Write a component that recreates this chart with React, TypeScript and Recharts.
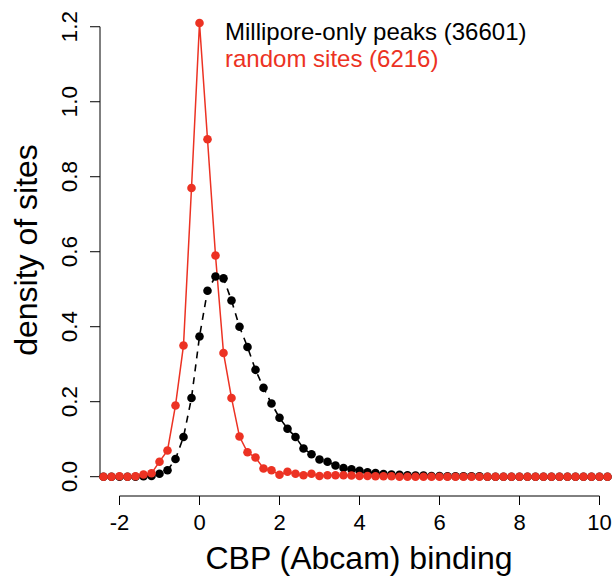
import { LineChart, Line, XAxis, YAxis, ReferenceLine } from "recharts";

const FONT = "'Liberation Sans', Arial, Helvetica, sans-serif";
const RED = "#EC3223";

// bin centres on the x axis
const xs = [
  -2.4, -2.2, -2.0, -1.8, -1.6, -1.4, -1.2, -1.0, -0.8, -0.6, -0.4, -0.2,
  0.0, 0.2, 0.4, 0.6, 0.8, 1.0, 1.2, 1.4, 1.6, 1.8, 2.0, 2.2, 2.4, 2.6, 2.8,
  3.0, 3.2, 3.4, 3.6, 3.8, 4.0, 4.2, 4.4, 4.6, 4.8, 5.0, 5.2, 5.4, 5.6, 5.8,
  6.0, 6.2, 6.4, 6.6, 6.8, 7.0, 7.2, 7.4, 7.6, 7.8, 8.0, 8.2, 8.4, 8.6, 8.8,
  9.0, 9.2, 9.4, 9.6, 9.8, 10.0, 10.2,
];

const milliporeDensity = [
  0, 0, 0, 0, 0, 0.001, 0.002, 0.008, 0.017, 0.047, 0.106, 0.21,
  0.374, 0.496, 0.534, 0.529, 0.47, 0.4, 0.346, 0.285, 0.237, 0.195, 0.157, 0.128, 0.106, 0.075, 0.06,
  0.046, 0.04, 0.03, 0.023, 0.02, 0.016, 0.012, 0.01, 0.007, 0.006, 0.005, 0.004, 0.003, 0.003, 0.002,
  0.002, 0.001, 0.001, 0.001, 0.001, 0.001, 0, 0, 0, 0, 0, 0, 0, 0, 0,
  0, 0, 0, 0, 0, 0, 0,
];

const randomDensity = [
  0, 0, 0.001, 0, 0.001, 0.006, 0.009, 0.04, 0.07, 0.19, 0.35, 0.77,
  1.21, 0.9, 0.59, 0.33, 0.21, 0.107, 0.065, 0.051, 0.022, 0.017, 0.005, 0.013, 0.008, 0.004, 0.008,
  0.002, 0.004, 0.004, 0.004, 0.003, 0.002, 0.002, 0.001, 0.001, 0.001, 0, 0, 0, 0, 0,
  0, 0, 0, 0, 0, 0, 0, 0, 0, 0, 0, 0, 0, 0, 0,
  0, 0, 0, 0, 0, 0, 0,
];

const xTicks = [-2, 0, 2, 4, 6, 8, 10];
const yTicks = [0, 0.2, 0.4, 0.6, 0.8, 1.0, 1.2];
const yTickLabels = ["0.0", "0.2", "0.4", "0.6", "0.8", "1.0", "1.2"];

const X_DOMAIN: [number, number] = [-2.4875, 10.3125];
const Y_DOMAIN: [number, number] = [-0.0515, 1.25];

const rows = xs.map((x, i) => ({
  x,
  millipore: milliporeDensity[i],
  random: randomDensity[i],
}));

const XTick = (props: any) => {
  const { x, y, payload } = props;
  return (
    <text x={x} y={y + 23} textAnchor="middle" fontSize={22} fontFamily={FONT} fill="#000">
      {String(payload.value)}
    </text>
  );
};

const YTick = (props: any) => {
  const { y, payload } = props;
  const i = yTicks.indexOf(payload.value);
  const bx = 77;
  return (
    <text
      x={bx}
      y={y}
      transform={`rotate(-90, ${bx}, ${y})`}
      textAnchor="middle"
      fontSize={22.5}
      fontFamily={FONT}
      fill="#000"
    >
      {i >= 0 ? yTickLabels[i] : String(payload.value)}
    </text>
  );
};

export default function App() {
  return (
    <div style={{ position: "absolute", left: 0, top: 0, width: 612, height: 576, background: "#fff" }}>
      <LineChart width={612} height={576} data={rows} margin={{ top: 8, right: 0, bottom: 0, left: 0 }}>
        <XAxis
          dataKey="x"
          type="number"
          domain={X_DOMAIN}
          allowDataOverflow
          ticks={xTicks}
          interval={0}
          height={80}
          tickSize={9}
          axisLine={false}
          tickLine={{ stroke: "#000", strokeWidth: 1 }}
          tick={<XTick />}
        />
        <YAxis
          type="number"
          domain={Y_DOMAIN}
          allowDataOverflow
          ticks={yTicks}
          interval={0}
          width={100}
          tickSize={10}
          axisLine={false}
          tickLine={{ stroke: "#000", strokeWidth: 1 }}
          tick={<YTick />}
        />
        <ReferenceLine
          segment={[{ x: -2, y: Y_DOMAIN[0] }, { x: 10, y: Y_DOMAIN[0] }]}
          stroke="#000"
          strokeWidth={1}
          ifOverflow="visible"
        />
        <ReferenceLine
          segment={[{ x: X_DOMAIN[0], y: 0 }, { x: X_DOMAIN[0], y: 1.2 }]}
          stroke="#000"
          strokeWidth={1}
          ifOverflow="visible"
        />
        <Line
          dataKey="millipore"
          type="linear"
          stroke="#000"
          strokeWidth={1.6}
          strokeDasharray="7 6"
          dot={{ r: 4.3, fill: "#000", stroke: "none", clipDot: false }}
          activeDot={false}
          isAnimationActive={false}
        />
        <Line
          dataKey="random"
          type="linear"
          stroke={RED}
          strokeWidth={1.5}
          dot={{ r: 4.3, fill: RED, stroke: "none", clipDot: false }}
          activeDot={false}
          isAnimationActive={false}
        />
      </LineChart>
      <svg
        width={612}
        height={576}
        style={{ position: "absolute", left: 0, top: 0, pointerEvents: "none" }}
      >
        <text x={225} y={40} fontSize={24} fontFamily={FONT} fill="#000">
          Millipore-only peaks (36601)
        </text>
        <text x={225} y={67} fontSize={24} fontFamily={FONT} fill={RED}>
          random sites (6216)
        </text>
        <text x={359} y={569} textAnchor="middle" fontSize={32} fontFamily={FONT} fill="#000">
          CBP (Abcam) binding
        </text>
        <text
          x={37}
          y={250}
          transform="rotate(-90, 37, 250)"
          textAnchor="middle"
          fontSize={32}
          fontFamily={FONT}
          fill="#000"
        >
          density of sites
        </text>
      </svg>
    </div>
  );
}
